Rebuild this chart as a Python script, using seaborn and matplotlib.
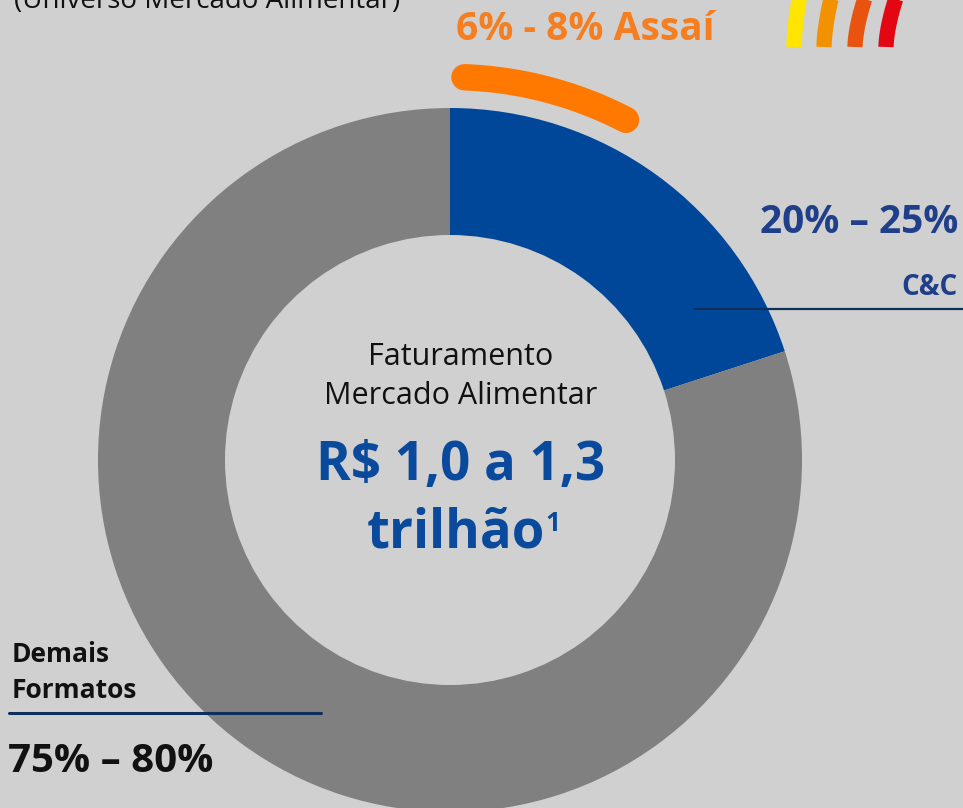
import matplotlib.pyplot as plt
import numpy as np
import seaborn as sns

# market share of the food market (%)
segments = ['C&C', 'Demais Formatos']
shares = [20, 80]
assai_range = [6, 8]
assai_arc = [0.6, 7.6]   # where the Assaí arc sits along the ring, in %
seg_labels = ['20% – 25%', '75% – 80%']

sns.set_theme(style='white')
plt.rcParams['font.family'] = ['Open Sans', 'DejaVu Sans']

bg = '#d0d0d0'
blue = '#00479a'
gray = '#808080'
orange = '#ff7800'
navy = '#0e2f5c'

fig = plt.figure(figsize=(9.63, 8.08), dpi=100, facecolor=bg)
ax = fig.add_axes([0, 0, 1, 1])
ax.set_facecolor(bg)

cx, cy, R = 450, 460, 352
ax.pie(shares, colors=[blue, gray], startangle=-90, counterclock=True,
       radius=R, center=(cx, cy), frame=True,
       wedgeprops=dict(width=127, edgecolor='none', linewidth=0))
ax.set_xlim(0, 963)
ax.set_ylim(808, 0)
ax.set_aspect('equal')
ax.axis('off')

# Assaí arc outside the ring
t = np.radians(-90 + 3.6 * np.linspace(assai_arc[0], assai_arc[1], 60))
ax.plot(cx + 383 * np.cos(t), cy + 383 * np.sin(t), color=orange, lw=19,
        solid_capstyle='round')

# logo stripes (top right)
for xb, xt, c in zip([794, 824, 855, 886], [800, 832, 866, 897],
                     ['#ffe500', '#f39200', '#e8540f', '#e30613']):
    s = np.linspace(0, 1, 20)
    ax.plot(xb + (xt - xb) * s ** 1.6, 47 - 52 * s, color=c, lw=11,
            solid_capstyle='butt')

ax.text(14, 8, '(Universo Mercado Alimentar)', fontsize=20,
        color='#111111', va='baseline', ha='left')

ax.text(585, 40, f'{assai_range[0]}% - {assai_range[1]}% Assaí', fontsize=28,
        fontweight='bold', color='#f57e20', ha='center', va='baseline')

ax.text(958, 233, seg_labels[0], fontsize=28, fontweight='bold',
        color='#1f3f8b', ha='right', va='baseline')
ax.text(958, 295, segments[0], fontsize=20, fontweight='bold',
        color='#1f3f8b', ha='right', va='baseline')
ax.plot([694, 963], [309, 309], color=navy, lw=1.6)

ax.text(461, 365, 'Faturamento', fontsize=22, color='#111111',
        ha='center', va='baseline')
ax.text(461, 404, 'Mercado Alimentar', fontsize=22,
        color='#111111', ha='center', va='baseline')
ax.text(461, 480, 'R$ 1,0 a 1,3', fontsize=38, fontweight='bold',
        color='#0a4a9c', ha='center', va='baseline')
tri = ax.text(456, 547, 'trilhão', fontsize=38, fontweight='bold',
              color='#0a4a9c', ha='center', va='baseline')
ax.annotate('1', xy=(1.0, 0.93), xycoords=tri, fontsize=19,
            fontweight='bold', color='#0a4a9c', ha='left', va='top')

ax.text(12, 662, 'Demais', fontsize=19, fontweight='bold', color='#111111',
        ha='left', va='baseline')
ax.text(12, 698, 'Formatos', fontsize=19, fontweight='bold',
        color='#111111', ha='left', va='baseline')
ax.plot([9, 321], [713, 713], color=navy, lw=2.2)
ax.text(8, 772, seg_labels[1], fontsize=29, fontweight='bold',
        color='#111111', ha='left', va='baseline')

fig.savefig('out.png', dpi=100, facecolor=bg)
